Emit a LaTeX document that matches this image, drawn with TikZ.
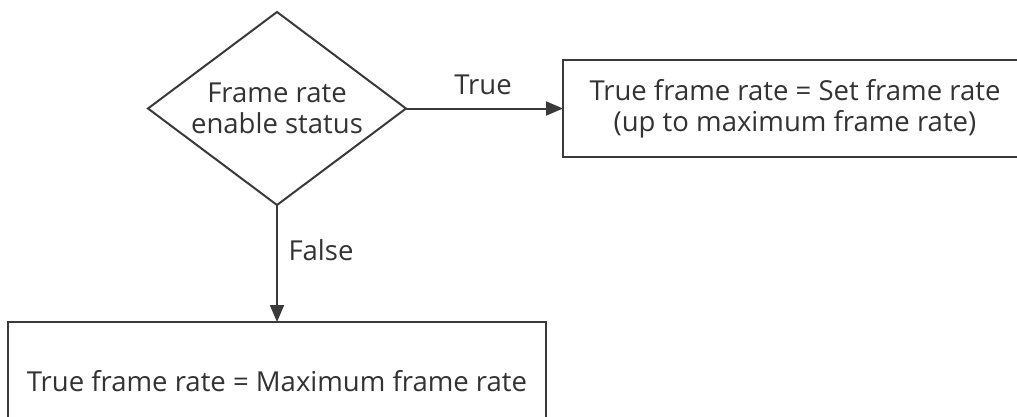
\documentclass[tikz,border=0pt]{standalone}
\usepackage{fontspec}
\setmainfont{Open Sans}
\usetikzlibrary{shapes.geometric,arrows.meta}
\definecolor{ink}{HTML}{3A3A3A}
\definecolor{txt}{HTML}{333333}
\tikzset{
  shape line/.style={draw=ink, line width=2pt, outer sep=0pt, inner sep=0pt, text=txt,
    font=\fontsize{27.5}{31}\selectfont, align=center},
  decision/.style={shape line, diamond, minimum width=258pt, minimum height=193pt},
  procbox/.style={shape line, rectangle},
  flow/.style={draw=ink, line width=2pt, -{Triangle[length=17pt,width=14pt]}},
  lbl/.style={text=txt, font=\fontsize{27.5}{31}\selectfont, inner sep=0pt, align=center}
}
\begin{document}
\begin{tikzpicture}[x=1pt,y=-1pt]
\useasboundingbox (0,0) rectangle (1017,416);
\clip (0,0) rectangle (1017,416);
\fill[white] (0,0) rectangle (1017,416);
\node[decision] (dec) at (277,108.5) {};
\node[lbl] (dectext) at (dec.center) {Frame rate\\enable status};
\node[procbox, minimum width=464pt, minimum height=97pt] (setbox) at (795,108.5)
  {True frame rate = Set frame rate\\(up to maximum frame rate)};
\node[procbox, minimum width=538pt, minimum height=118pt] (maxbox) at (277,381)
  {True frame rate = Maximum frame rate};
\draw[flow] (dec.east) -- (setbox.west);
\draw[flow] (dec.south) -- (maxbox.north);
\node[lbl] (truelbl) at (483,85) {True};
\node[lbl] (falselbl) at (321,250) {False};
\end{tikzpicture}
\end{document}
